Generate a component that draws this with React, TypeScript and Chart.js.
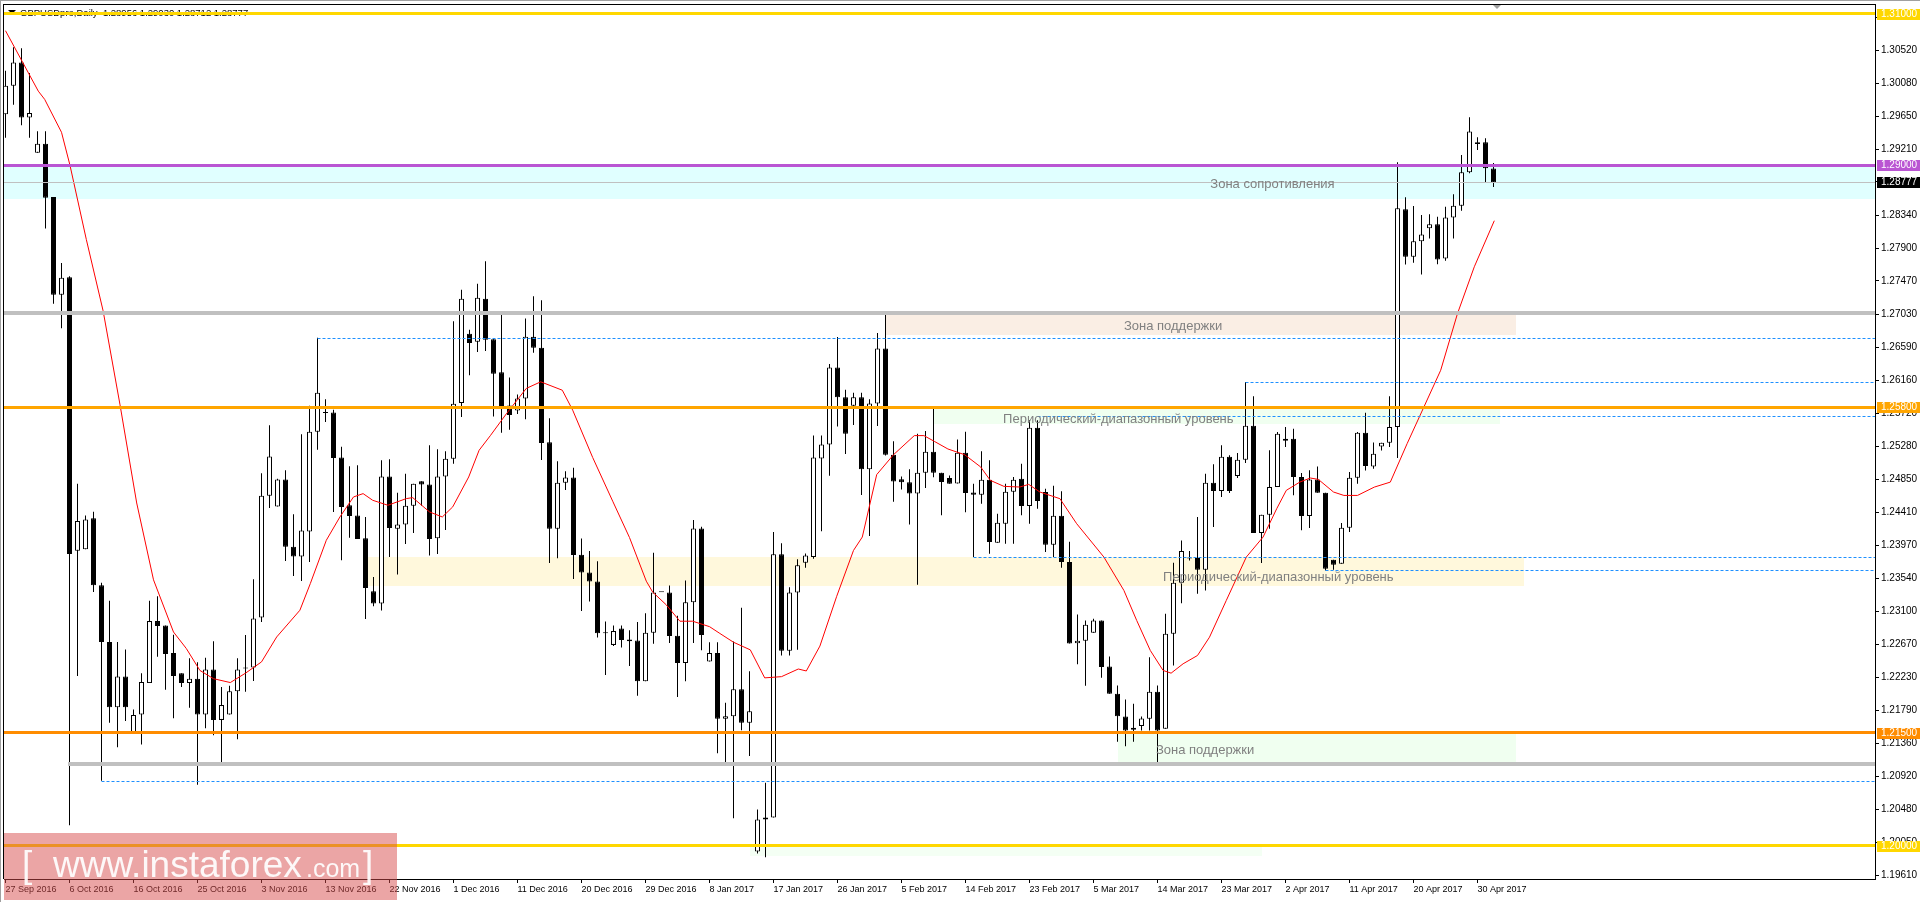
import React, { useEffect, useRef } from "react";
import { Chart, registerables } from "chart.js";

Chart.register(...registerables);

const FONT = '"Liberation Sans", Arial, sans-serif';

// ---------------- data (GBPUSDpro, Daily) ----------------
const opens = [
  1.29675, 1.30053, 1.30358, 1.29632, 1.29167, 1.29283, 1.28579, 1.27287, 1.27519, 1.23904,
  1.23925, 1.24332, 1.23446, 1.22698, 1.21834, 1.22241, 1.215, 1.2174, 1.22154, 1.22974,
  1.22916, 1.22553, 1.22285, 1.22154, 1.22212, 1.2174, 1.22335, 1.21667, 1.2174, 1.22045,
  1.22355, 1.22359, 1.2302, 1.24632, 1.24487, 1.24844, 1.23958, 1.23826, 1.24157, 1.25478,
  1.2573, 1.2573, 1.25135, 1.24505, 1.24368, 1.24068, 1.23368, 1.23205, 1.24884, 1.24196,
  1.24249, 1.245, 1.24822, 1.24778, 1.24068, 1.24884, 1.25121, 1.25857, 1.26774, 1.26668,
  1.27236, 1.26699, 1.26262, 1.25824, 1.25757, 1.25915, 1.26733, 1.26589, 1.25338, 1.24193,
  1.24804, 1.24872, 1.23852, 1.23616, 1.23496, 1.22818, 1.22659, 1.22876, 1.22731, 1.22717,
  1.22178, 1.22818, 1.23361, 1.23352, 1.22779, 1.22419, 1.23222, 1.24198, 1.22438, 1.22553,
  1.21683, 1.21717, 1.22072, 1.21631, 1.19926, 1.20351, 1.20377, 1.23857, 1.22583, 1.23351,
  1.23746, 1.23822, 1.25122, 1.25309, 1.26326, 1.25932, 1.2582, 1.25932, 1.2498, 1.25851,
  1.26579, 1.25173, 1.24849, 1.24808, 1.24662, 1.24935, 1.25213, 1.24935, 1.24864, 1.24793,
  1.25198, 1.24675, 1.24645, 1.24843, 1.2401, 1.24261, 1.24684, 1.24856, 1.24495, 1.25531,
  1.2468, 1.23983, 1.24367, 1.23754, 1.22682, 1.22713, 1.22819, 1.22982, 1.22373, 1.22012,
  1.21712, 1.21536, 1.21588, 1.21681, 1.22038, 1.21549, 1.22806, 1.2348, 1.23807, 1.23807,
  1.23652, 1.24803, 1.24693, 1.25147, 1.24892, 1.25108, 1.25557, 1.24137, 1.2438, 1.24746,
  1.25359, 1.25385, 1.24878, 1.24362, 1.24847, 1.24671, 1.23785, 1.23732, 1.24208, 1.24868,
  1.25464, 1.25019, 1.25283, 1.25332, 1.25539, 1.28417, 1.27791, 1.27994, 1.28166, 1.28219,
  1.27768, 1.28311, 1.28466, 1.28907, 1.29282, 1.29305, 1.28956,
];
const highs = [
  1.30249, 1.30561, 1.30546, 1.3022, 1.2945, 1.2945, 1.28579, 1.27708, 1.27533, 1.24789,
  1.24368, 1.24419, 1.23482, 1.23243, 1.22698, 1.22597, 1.21805, 1.22285, 1.23243, 1.23301,
  1.22916, 1.22793, 1.22285, 1.22481, 1.2243, 1.22488, 1.22706, 1.22103, 1.22118, 1.22481,
  1.2279, 1.23527, 1.24928, 1.25562, 1.24857, 1.24967, 1.24386, 1.25443, 1.25822, 1.26721,
  1.25906, 1.25769, 1.2528, 1.2502, 1.25033, 1.2435, 1.23557, 1.25099, 1.25113, 1.24672,
  1.24923, 1.24791, 1.24822, 1.25298, 1.25245, 1.25218, 1.26937, 1.27355, 1.26827, 1.27435,
  1.2773, 1.26699, 1.27027, 1.26194, 1.25968, 1.26974, 1.27267, 1.27214, 1.25656, 1.25088,
  1.24953, 1.25002, 1.24064, 1.239, 1.23765, 1.22967, 1.22914, 1.22914, 1.22851, 1.22962,
  1.23078, 1.23876, 1.23361, 1.23443, 1.23044, 1.2351, 1.24309, 1.24222, 1.22693, 1.22693,
  1.21894, 1.22704, 1.23149, 1.22309, 1.20483, 1.20837, 1.24151, 1.24004, 1.23422, 1.23792,
  1.23867, 1.25426, 1.25426, 1.26372, 1.26731, 1.26033, 1.25992, 1.25992, 1.25906, 1.26781,
  1.27045, 1.2535, 1.24884, 1.2498, 1.25451, 1.25486, 1.2578, 1.24935, 1.24899, 1.25375,
  1.25476, 1.2479, 1.25218, 1.25099, 1.24393, 1.2479, 1.24878, 1.25055, 1.25628, 1.25628,
  1.24724, 1.24764, 1.24689, 1.24023, 1.23061, 1.22982, 1.23004, 1.22982, 1.22506, 1.22122,
  1.21937, 1.2188, 1.21712, 1.22497, 1.22122, 1.2307, 1.23745, 1.2404, 1.23899, 1.24349,
  1.24922, 1.25046, 1.25297, 1.25165, 1.25196, 1.26135, 1.25946, 1.2438, 1.25231, 1.25474,
  1.2554, 1.25518, 1.24931, 1.24967, 1.25019, 1.24671, 1.23785, 1.2427, 1.24944, 1.25473,
  1.25729, 1.25336, 1.25332, 1.25946, 1.2904, 1.28576, 1.28461, 1.28342, 1.28351, 1.2832,
  1.28453, 1.28616, 1.29137, 1.29636, 1.29371, 1.29358, 1.2903,
];
const lows = [
  1.29363, 1.29799, 1.2953, 1.29363, 1.29167, 1.28165, 1.2717, 1.26844, 1.20273, 1.22248,
  1.23925, 1.23359, 1.20862, 1.21631, 1.21304, 1.21653, 1.21486, 1.21341, 1.22154, 1.22502,
  1.22067, 1.21689, 1.22103, 1.21827, 1.20811, 1.21558, 1.21464, 1.21108, 1.2174, 1.21413,
  1.2204, 1.22183, 1.22963, 1.24469, 1.24487, 1.23769, 1.23571, 1.23505, 1.23756, 1.2524,
  1.25606, 1.24417, 1.23778, 1.24077, 1.2406, 1.23002, 1.2317, 1.23112, 1.23822, 1.23588,
  1.23994, 1.24139, 1.245, 1.2384, 1.23862, 1.24179, 1.25055, 1.25672, 1.26223, 1.26531,
  1.26545, 1.2568, 1.25463, 1.25502, 1.25713, 1.25641, 1.26522, 1.25103, 1.23741, 1.23804,
  1.24708, 1.2353, 1.23106, 1.23231, 1.22755, 1.2226, 1.22645, 1.22625, 1.2238, 1.21986,
  1.22178, 1.22673, 1.23361, 1.22683, 1.21971, 1.22178, 1.22683, 1.22587, 1.22438, 1.21226,
  1.2106, 1.20367, 1.2153, 1.21191, 1.19901, 1.19851, 1.20377, 1.22517, 1.22517, 1.22593,
  1.2368, 1.23797, 1.24161, 1.24894, 1.25547, 1.25183, 1.25567, 1.24641, 1.241, 1.25552,
  1.25163, 1.2455, 1.24712, 1.24252, 1.23453, 1.24733, 1.24874, 1.24373, 1.24788, 1.24793,
  1.24414, 1.2382, 1.24526, 1.23864, 1.2401, 1.23996, 1.23996, 1.24373, 1.24261, 1.24459,
  1.23886, 1.2382, 1.23679, 1.22678, 1.22404, 1.22118, 1.22819, 1.22224, 1.22012, 1.21377,
  1.21319, 1.21377, 1.21527, 1.21527, 1.21064, 1.21549, 1.22387, 1.23211, 1.23776, 1.23335,
  1.23379, 1.24217, 1.24614, 1.24667, 1.24865, 1.25064, 1.24137, 1.23741, 1.24195, 1.24746,
  1.25275, 1.24636, 1.24173, 1.24204, 1.24671, 1.23644, 1.23652, 1.23732, 1.2415, 1.24789,
  1.24966, 1.24988, 1.2523, 1.25275, 1.25129, 1.27689, 1.27711, 1.27557, 1.28033, 1.27693,
  1.27738, 1.28033, 1.284, 1.28894, 1.29203, 1.2877, 1.28712,
];
const closes = [
  1.30053, 1.30358, 1.29632, 1.2969, 1.29283, 1.28572, 1.27287, 1.27512, 1.2386, 1.24296,
  1.24317, 1.23446, 1.22698, 1.21834, 1.22241, 1.21834, 1.21733, 1.22168, 1.22974, 1.22909,
  1.22539, 1.22248, 1.22154, 1.22212, 1.2174, 1.22335, 1.21667, 1.21863, 1.22045, 1.22335,
  1.22355, 1.23007, 1.24632, 1.25148, 1.24844, 1.23958, 1.23826, 1.2417, 1.25478, 1.25994,
  1.2573, 1.2513, 1.24483, 1.24364, 1.2406, 1.23412, 1.23205, 1.24884, 1.24205, 1.24249,
  1.245, 1.24791, 1.24778, 1.2406, 1.24884, 1.25121, 1.25848, 1.27236, 1.2665, 1.2725,
  1.26694, 1.26243, 1.258, 1.25699, 1.25915, 1.26733, 1.26589, 1.25329, 1.24193, 1.24804,
  1.24872, 1.23847, 1.23616, 1.23496, 1.22813, 1.22818, 1.22842, 1.22722, 1.22707, 1.22178,
  1.22818, 1.23352, 1.23361, 1.22775, 1.22419, 1.23222, 1.24198, 1.22789, 1.22553, 1.21683,
  1.21717, 1.22072, 1.21631, 1.21783, 1.20351, 1.20377, 1.23857, 1.22583, 1.23351, 1.23711,
  1.23842, 1.25137, 1.25309, 1.26326, 1.25932, 1.25451, 1.25932, 1.2498, 1.25851, 1.26579,
  1.25173, 1.24819, 1.24808, 1.24662, 1.24935, 1.25213, 1.24935, 1.24813, 1.24788, 1.25198,
  1.24667, 1.24645, 1.24843, 1.24018, 1.24274, 1.24684, 1.24843, 1.24495, 1.25531, 1.24561,
  1.23983, 1.24367, 1.23754, 1.22678, 1.22713, 1.22925, 1.22982, 1.22365, 1.22012, 1.21716,
  1.21527, 1.21562, 1.21686, 1.22038, 1.21527, 1.22806, 1.2348, 1.23899, 1.23807, 1.23652,
  1.24803, 1.24693, 1.25147, 1.24693, 1.25108, 1.25557, 1.24137, 1.2438, 1.24746, 1.25452,
  1.25385, 1.24878, 1.24362, 1.24847, 1.24671, 1.23666, 1.23718, 1.24208, 1.2487, 1.25464,
  1.25023, 1.25186, 1.25332, 1.25539, 1.28431, 1.27791, 1.27994, 1.28086, 1.28219, 1.27755,
  1.28311, 1.28466, 1.28907, 1.29446, 1.29305, 1.2896, 1.28777,
];

// moving average (red line) at these bar positions
const maBars = [
  0, 4.1, 4.9, 7, 8.06, 10.1, 12.2, 14.3, 16.4, 18.5, 21, 22.6, 24.3, 26, 28.1, 30, 32, 33.9,
  36.8, 38.1, 40.1, 41.8, 43.5, 44.7, 45.9, 47.8, 50.1, 50.9, 53, 54.6, 55.9, 57.9, 59.2, 60.6,
  62.6, 65.1, 66.9, 69.6, 70.9, 73.4, 75.9, 78, 80.1, 80.9, 82.6, 84.3, 85.9, 88, 89.3, 91, 93.1,
  94.9, 97, 99.1, 100.1, 101.8, 103.9, 106, 107.1, 108.9, 111, 113.6, 114.8, 116.1, 117.8, 119.9,
  121.9, 123.1, 124.8, 126.8, 127.9, 129.3, 131.8, 133.9, 137.3, 139.8, 141.4, 143.1, 144.7,
  145.7, 147.2, 149, 150.5, 152.6, 155.1, 157.2, 158.9, 160.1, 161.8, 163.1, 164.1, 166, 167.3,
  169, 171.1, 173.1, 175.2, 177.3, 179.4, 181.5, 183.6, 186.1,
];
const maValues = [
  1.30779, 1.2998, 1.29871, 1.29436, 1.29, 1.2802, 1.27076, 1.25842, 1.24535, 1.23519, 1.22829,
  1.22611, 1.22321, 1.22212, 1.22161, 1.22285, 1.22434, 1.22764, 1.23117, 1.23469, 1.24042,
  1.2435, 1.24615, 1.24659, 1.24571, 1.24505, 1.24593, 1.24606, 1.24417, 1.2435, 1.24483,
  1.24879, 1.25232, 1.25425, 1.25713, 1.2605, 1.26137, 1.26026, 1.25762, 1.25136, 1.24559,
  1.24078, 1.23501, 1.23357, 1.23188, 1.22972, 1.22972, 1.229, 1.2281, 1.22694, 1.22593,
  1.22223, 1.22239, 1.2234, 1.22314, 1.22643, 1.23301, 1.23908, 1.24085, 1.2491, 1.25173,
  1.25426, 1.25426, 1.2535, 1.25249, 1.25173, 1.25011, 1.24834, 1.24755, 1.24746, 1.24781,
  1.2468, 1.24592, 1.24261, 1.2382, 1.23379, 1.22982, 1.22585, 1.22321, 1.22285, 1.22409,
  1.22519, 1.22761, 1.23247, 1.2382, 1.24085, 1.24459, 1.24702, 1.24812, 1.24865, 1.24847,
  1.2468, 1.24635, 1.24635, 1.24745, 1.24811, 1.25319, 1.25804, 1.2629, 1.2704, 1.27658, 1.28267,
];

const dateLabels = [
  "27 Sep 2016", "6 Oct 2016", "16 Oct 2016", "25 Oct 2016", "3 Nov 2016", "13 Nov 2016",
  "22 Nov 2016", "1 Dec 2016", "11 Dec 2016", "20 Dec 2016", "29 Dec 2016", "8 Jan 2017",
  "17 Jan 2017", "26 Jan 2017", "5 Feb 2017", "14 Feb 2017", "23 Feb 2017", "5 Mar 2017",
  "14 Mar 2017", "23 Mar 2017", "2 Apr 2017", "11 Apr 2017", "20 Apr 2017", "30 Apr 2017",
];
const dateLabelBars = [0, 8, 16, 24, 32, 40, 48, 56, 64, 72, 80, 88, 96, 104, 112, 120, 128, 136, 144, 152, 160, 168, 176, 184];

const priceTicks = [
  1.3096, 1.3052, 1.3008, 1.2965, 1.2921, 1.2878, 1.2834, 1.279, 1.2747, 1.2703, 1.2659, 1.2616,
  1.2572, 1.2528, 1.2485, 1.2441, 1.2397, 1.2354, 1.231, 1.2267, 1.2223, 1.2179, 1.2136, 1.2092,
  1.2048, 1.2005, 1.1961,
];

const headerText = "GBPUSDpro,Daily  1.28956 1.29030 1.28712 1.28777";
const currentPrice = 1.28777;

// horizontal levels
const levelPrices = [1.31, 1.29, 1.2705, 1.258, 1.215, 1.2108, 1.2];
const levelStartBars = [null, null, null, null, null, 7.85, null];
const levelTagged = [true, true, false, true, true, false, true];
const levelStyle = [
  { color: "#FFD700", w: 3 }, { color: "#BA55D3", w: 3 }, { color: "#C0C0C0", w: 4 },
  { color: "#FFA500", w: 3 }, { color: "#FF8C00", w: 3 }, { color: "#C0C0C0", w: 4 },
  { color: "#FFD700", w: 3 },
];

// dashed blue levels
const dashPrices = [1.26721, 1.26135, 1.2569, 1.2382, 1.23644, 1.20862];
const dashStartBars = [39, 155, 129, 121, 165, 12];

// zones (rectangles)
const zoneTops = [1.29, 1.2703, 1.258, 1.2382, 1.215, 1.2];
const zoneBottoms = [1.2855, 1.2675, 1.2557, 1.2344, 1.211, 1.1987];
const zoneStartBars = [null, 110, 116, 45, 139, 93];
const zoneEndBars = [null, 188.8, 186.8, 189.8, 188.8, 157];
const zoneColors = ["#E0FFFF", "#FAEEE4", "#F0FFF0", "#FFF8DC", "#F0FFF0", "#F4FFF4"];

// text notes
const noteTexts = [
  "Зона сопротивления",
  "Зона поддержки",
  "Периодический-диапазонный уровень",
  "Периодический-диапазонный уровень",
  "Зона поддержки",
];
const noteBars = [150.6, 139.8, 124.7, 144.7, 143.8];
const notePrices = [1.28752, 1.26875, 1.25636, 1.23556, 1.21269];

// ---------------- chart geometry helpers ----------------
const X_MIN = -0.1875;
const X_MAX = 233.6875;
const Y_MIN = 1.195637;
const Y_MAX = 1.311322;

const bars = opens.map((_, i) => i);
const MIN_BODY = 0.000066;

function bodyRange(i: number): [number, number] {
  const lo = Math.min(opens[i], closes[i]);
  const hi = Math.max(opens[i], closes[i]);
  if (hi - lo < 2 * MIN_BODY) {
    const m = (hi + lo) / 2;
    return [m - MIN_BODY, m + MIN_BODY];
  }
  return [lo, hi];
}

const overlayPlugin = {
  id: "mt4overlay",
  beforeDatasetsDraw(chart: any) {
    const { ctx, chartArea: a, scales } = chart;
    const x = scales.x, y = scales.y;
    ctx.save();
    ctx.beginPath();
    ctx.rect(a.left, a.top, a.right - a.left, a.bottom - a.top);
    ctx.clip();
    // zones
    zoneTops.forEach((top, k) => {
      const x1 = zoneStartBars[k] == null ? a.left : x.getPixelForValue(zoneStartBars[k]);
      const x2 = zoneEndBars[k] == null ? a.right : x.getPixelForValue(zoneEndBars[k]);
      const y1 = y.getPixelForValue(top);
      const y2 = y.getPixelForValue(zoneBottoms[k]);
      ctx.fillStyle = zoneColors[k];
      ctx.fillRect(Math.round(x1), Math.round(y1), Math.round(x2 - x1), Math.round(y2 - y1));
    });
    // header
    ctx.fillStyle = "#000";
    ctx.beginPath();
    ctx.moveTo(8, 10);
    ctx.lineTo(16, 10);
    ctx.lineTo(12, 14);
    ctx.closePath();
    ctx.fill();
    ctx.font = `9.5px ${FONT}`;
    ctx.textBaseline = "middle";
    ctx.textAlign = "left";
    ctx.fillText(headerText, 20, 13);
    ctx.restore();
  },
  afterDatasetsDraw(chart: any) {
    const { ctx, chartArea: a, scales } = chart;
    const x = scales.x, y = scales.y;
    ctx.save();
    ctx.beginPath();
    ctx.rect(a.left, a.top, a.right - a.left, a.bottom - a.top);
    ctx.clip();
    // current price line
    const cy = Math.round(y.getPixelForValue(currentPrice));
    ctx.fillStyle = "#C0C0C0";
    ctx.fillRect(a.left, cy, a.right - a.left, 1);
    // dashed lines
    ctx.strokeStyle = "#1E90FF";
    ctx.lineWidth = 1;
    ctx.setLineDash([3, 2]);
    dashPrices.forEach((p, k) => {
      const py = Math.round(y.getPixelForValue(p)) + 0.5;
      ctx.beginPath();
      ctx.moveTo(x.getPixelForValue(dashStartBars[k]), py);
      ctx.lineTo(a.right, py);
      ctx.stroke();
    });
    ctx.setLineDash([]);
    // solid levels
    levelPrices.forEach((p, k) => {
      const st = levelStyle[k];
      const py = y.getPixelForValue(p);
      const x1 = levelStartBars[k] == null ? a.left : x.getPixelForValue(levelStartBars[k]);
      ctx.fillStyle = st.color;
      ctx.fillRect(Math.round(x1), Math.round(py - st.w / 2), Math.round(a.right - x1), st.w);
    });
    // notes
    ctx.font = `13px ${FONT}`;
    ctx.fillStyle = "#808080";
    ctx.textBaseline = "middle";
    ctx.textAlign = "left";
    noteTexts.forEach((t, k) => {
      ctx.fillText(t, x.getPixelForValue(noteBars[k]), y.getPixelForValue(notePrices[k]));
    });
    ctx.restore();
  },
  afterDraw(chart: any) {
    const { ctx, chartArea: a, scales } = chart;
    const y = scales.y;
    ctx.save();
    // frame
    ctx.fillStyle = "#A0A0A0";
    ctx.fillRect(0, 0, chart.width, 1);
    ctx.fillRect(0, 0, 1, chart.height);
    ctx.fillStyle = "#000";
    ctx.fillRect(3, a.top, a.right - 3, 1);
    ctx.fillRect(3, a.top, 1, a.bottom - a.top);
    // chart shift marker
    ctx.fillStyle = "#A0A0A0";
    ctx.beginPath();
    ctx.moveTo(1493, a.top + 1);
    ctx.lineTo(1501, a.top + 1);
    ctx.lineTo(1497, a.top + 5);
    ctx.closePath();
    ctx.fill();
    // price tags on the axis
    ctx.font = `10px ${FONT}`;
    ctx.textBaseline = "middle";
    ctx.textAlign = "left";
    const tag = (p: number, bg: string) => {
      const py = Math.round(y.getPixelForValue(p));
      ctx.fillStyle = bg;
      ctx.fillRect(a.right + 2, py - 5, 43, 11);
      ctx.fillStyle = "#FFFFFF";
      ctx.fillText(p.toFixed(5), a.right + 6, py + 0.5);
    };
    levelPrices.forEach((p, k) => {
      if (levelTagged[k]) tag(p, levelStyle[k].color);
    });
    tag(currentPrice, "#000000");
    // watermark
    ctx.fillStyle = "rgba(215,75,75,0.5)";
    ctx.fillRect(4, 833, 393, 67);
    ctx.fillStyle = "rgba(255,255,255,0.92)";
    ctx.textBaseline = "alphabetic";
    ctx.font = `300 37px ${FONT}`;
    ctx.fillText("[", 22, 877);
    ctx.fillText("www.instaforex", 53, 877);
    ctx.fillText("]", 363, 877);
    ctx.font = `300 25px ${FONT}`;
    ctx.fillText(".com", 306, 877);
    ctx.restore();
  },
};

export default function App() {
  const canvasRef = useRef<HTMLCanvasElement | null>(null);

  useEffect(() => {
    document.body.style.margin = "0";
    const canvas = canvasRef.current;
    if (!canvas) return;
    const chart = new Chart(canvas, {
      type: "bar",
      data: {
        datasets: [
          {
            type: "line",
            label: "MA",
            data: maBars.map((b, k) => ({ x: b, y: maValues[k] })),
            borderColor: "#FF0000",
            borderWidth: 1,
            pointRadius: 0,
            tension: 0,
            fill: false,
            order: 0,
          } as any,
          {
            type: "bar",
            label: "body",
            data: bars.map((i) => ({ x: i, y: bodyRange(i) })),
            backgroundColor: bars.map((i) => (closes[i] > opens[i] ? "#FFFFFF" : "#000000")),
            borderColor: "#000000",
            borderWidth: 1,
            borderSkipped: false,
            inflateAmount: 0,
            grouped: false,
            barPercentage: 0.625,
            categoryPercentage: 1,
            order: 1,
          } as any,
          {
            type: "bar",
            label: "wick",
            data: bars.map((i) => ({ x: i, y: [lows[i], highs[i]] })),
            backgroundColor: "#000000",
            borderWidth: 0,
            inflateAmount: 0,
            grouped: false,
            barPercentage: 0.125,
            categoryPercentage: 1,
            order: 2,
          } as any,
        ],
      },
      options: {
        animation: false,
        responsive: false,
        devicePixelRatio: 1,
        layout: { padding: { top: 4, left: 4, right: 0, bottom: 0 } },
        plugins: { legend: { display: false }, tooltip: { enabled: false }, title: { display: false } },
        scales: {
          x: {
            type: "linear",
            position: "bottom",
            min: X_MIN,
            max: X_MAX,
            offset: false,
            bounds: "data",
            grid: { display: true, drawOnChartArea: false, drawTicks: true, tickLength: 4, color: "#000", offset: false },
            border: { display: true, color: "#000", width: 1 },
            ticks: {
              autoSkip: false,
              maxRotation: 0,
              minRotation: 0,
              align: "start",
              padding: 1,
              color: "#000",
              font: { family: FONT, size: 9 },
              callback: (_v: any, i: number) => dateLabels[i] ?? "",
            },
            afterBuildTicks: (s: any) => {
              s.ticks = dateLabelBars.map((v) => ({ value: v }));
            },
            afterFit: (s: any) => {
              s.height = 23;
              s.paddingLeft = 0;
              s.paddingRight = 0;
              s.paddingTop = 0;
              s.paddingBottom = 0;
            },
          },
          y: {
            type: "linear",
            position: "right",
            min: Y_MIN,
            max: Y_MAX,
            bounds: "data",
            beginAtZero: false,
            grid: { display: true, drawOnChartArea: false, drawTicks: true, tickLength: 4, color: "#000" },
            border: { display: true, color: "#000", width: 1 },
            ticks: {
              autoSkip: false,
              padding: 2,
              color: "#000",
              font: { family: FONT, size: 10 },
              callback: (v: any) => Number(v).toFixed(5),
            },
            afterBuildTicks: (s: any) => {
              s.ticks = priceTicks.map((v) => ({ value: v }));
            },
            afterFit: (s: any) => {
              s.width = 45;
              s.paddingTop = 0;
              s.paddingBottom = 0;
              s.paddingLeft = 0;
              s.paddingRight = 0;
            },
          },
        },
      } as any,
      plugins: [overlayPlugin],
    });
    return () => chart.destroy();
  }, []);

  return (
    <div style={{ position: "relative", width: 1920, height: 902, background: "#FFFFFF" }}>
      <canvas ref={canvasRef} width={1920} height={902} style={{ display: "block", width: 1920, height: 902 }} />
    </div>
  );
}
